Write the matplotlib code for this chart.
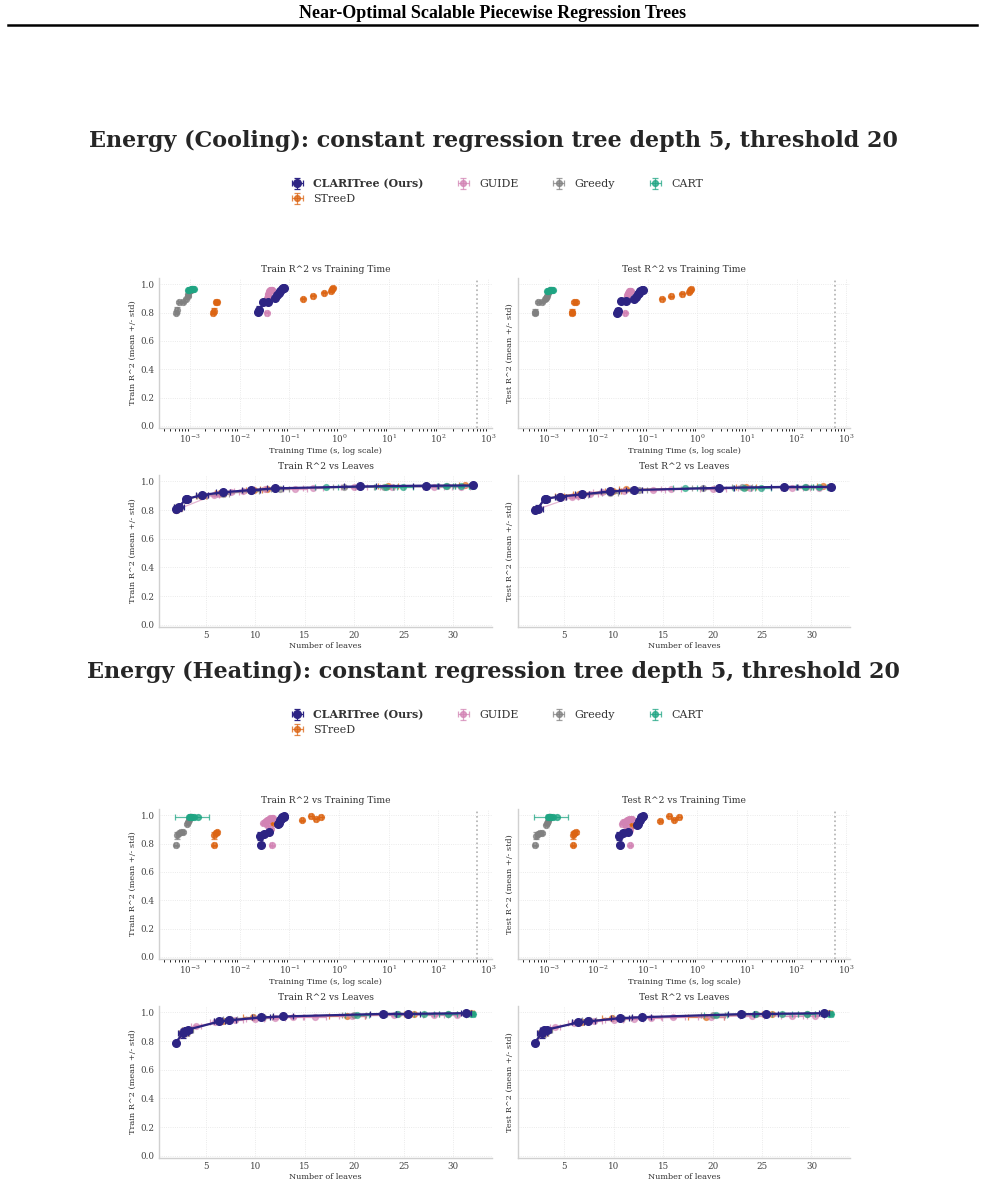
import matplotlib.pyplot as plt
import numpy as np

plt.rcParams["font.family"] = "DejaVu Serif"

W, H = 985, 1183

METHODS = ["CLARITree (Ours)", "STreeD", "GUIDE", "Greedy", "CART"]
COLORS = ["#2d2483", "#dc6412", "#d283b4", "#808080", "#1fa583"]
TIME_LIMIT = 600
R2_TICKS = [0.0, 0.2, 0.4, 0.6, 0.8, 1.0]

# ---------------- Energy (Cooling) ----------------
COOL_CLARI = dict(
    leaves=[2.0, 2.3, 3.0, 3.1, 4.6, 6.8, 9.6, 12.0, 20.6, 27.2, 32.0],
    leaves_std=[0.0, 0.5, 0.2, 0.3, 0.6, 0.7, 0.9, 0.8, 1.6, 1.3, 0.2],
    time=[0.024, 0.025, 0.029, 0.037, 0.052, 0.057, 0.062, 0.066, 0.071, 0.076, 0.080],
    time_std=[0.002, 0.002, 0.002, 0.003, 0.003, 0.003, 0.004, 0.004, 0.004, 0.005, 0.005],
    train=[0.805, 0.820, 0.877, 0.878, 0.905, 0.925, 0.940, 0.952, 0.965, 0.971, 0.972],
    test=[0.800, 0.810, 0.880, 0.880, 0.895, 0.910, 0.930, 0.940, 0.955, 0.962, 0.962],
    r2_std=[0.008, 0.025, 0.006, 0.006, 0.005, 0.004, 0.004, 0.003, 0.003, 0.002, 0.002],
)
COOL_STREED = dict(
    leaves=[2.0, 2.2, 3.0, 3.1, 4.5, 6.5, 9.9, 11.2, 23.4, 31.2],
    leaves_std=[0.0, 0.4, 0.0, 0.3, 0.5, 0.6, 0.8, 0.7, 1.0, 0.6],
    time=[0.0029, 0.0030, 0.0033, 0.0035, 0.19, 0.30, 0.50, 0.68, 0.72, 0.75],
    time_std=[0.0002, 0.0002, 0.0002, 0.0003, 0.01, 0.02, 0.03, 0.04, 0.05, 0.05],
    train=[0.800, 0.815, 0.873, 0.878, 0.900, 0.920, 0.940, 0.950, 0.965, 0.975],
    test=[0.800, 0.805, 0.875, 0.877, 0.900, 0.915, 0.935, 0.945, 0.958, 0.965],
    r2_std=[0.010, 0.020, 0.008, 0.006, 0.005, 0.004, 0.004, 0.003, 0.003, 0.003],
)
COOL_GUIDE = dict(
    leaves=[2.0, 5.8, 6.4, 7.6, 8.8, 11.0, 14.0, 15.8, 20.0, 23.8, 28.0, 30.8],
    leaves_std=[0.0, 0.6, 0.6, 0.8, 0.9, 1.1, 1.2, 1.0, 1.3, 1.2, 1.1, 0.9],
    time=[0.035, 0.036, 0.037, 0.038, 0.038, 0.039, 0.040, 0.041, 0.042, 0.043, 0.044, 0.045],
    time_std=[0.002, 0.002, 0.002, 0.002, 0.002, 0.002, 0.002, 0.002, 0.002, 0.002, 0.002, 0.002],
    train=[0.800, 0.905, 0.912, 0.925, 0.935, 0.945, 0.950, 0.955, 0.960, 0.962, 0.962, 0.963],
    test=[0.800, 0.890, 0.900, 0.910, 0.925, 0.935, 0.940, 0.945, 0.950, 0.955, 0.955, 0.955],
    r2_std=[0.005, 0.006, 0.005, 0.005, 0.004, 0.004, 0.004, 0.003, 0.003, 0.003, 0.003, 0.003],
)
COOL_GREEDY = dict(
    leaves=[2.0, 2.2, 3.0, 3.2, 4.6, 6.8, 9.6, 12.5, 19.0, 23.0, 29.4],
    leaves_std=[0.0, 0.4, 0.0, 0.3, 0.5, 0.6, 0.8, 0.9, 1.1, 1.0, 0.8],
    time=[0.00053, 0.00054, 0.00062, 0.00072, 0.00085, 0.00090, 0.00094, 0.00098, 0.00102, 0.00106, 0.00110],
    time_std=[0.00003, 0.00003, 0.00003, 0.00004, 0.00004, 0.00004, 0.00005, 0.00005, 0.00005, 0.00005, 0.00005],
    train=[0.800, 0.820, 0.875, 0.877, 0.900, 0.915, 0.930, 0.950, 0.960, 0.963, 0.965],
    test=[0.800, 0.805, 0.875, 0.877, 0.895, 0.905, 0.920, 0.940, 0.955, 0.958, 0.960],
    r2_std=[0.010, 0.020, 0.006, 0.006, 0.005, 0.004, 0.004, 0.003, 0.003, 0.003, 0.003],
)
COOL_CART = dict(
    leaves=[17.2, 23.2, 24.9, 29.3, 30.8, 31.9],
    leaves_std=[1.2, 1.1, 1.0, 0.9, 0.8, 0.3],
    time=[0.00092, 0.00098, 0.00104, 0.00110, 0.00116, 0.00122],
    time_std=[0.00005, 0.00005, 0.00005, 0.00005, 0.00005, 0.00005],
    train=[0.958, 0.963, 0.964, 0.966, 0.966, 0.967],
    test=[0.952, 0.956, 0.957, 0.958, 0.958, 0.958],
    r2_std=[0.003, 0.003, 0.003, 0.003, 0.003, 0.003],
)

# ---------------- Energy (Heating) ----------------
HEAT_CLARI = dict(
    leaves=[2.0, 2.7, 2.9, 3.2, 6.4, 7.4, 10.6, 12.8, 22.9, 25.4, 31.3],
    leaves_std=[0.0, 0.5, 0.4, 0.4, 0.6, 0.7, 0.9, 1.0, 1.3, 1.2, 0.5],
    time=[0.027, 0.026, 0.031, 0.040, 0.060, 0.063, 0.066, 0.069, 0.073, 0.077, 0.080],
    time_std=[0.002, 0.002, 0.002, 0.003, 0.003, 0.003, 0.004, 0.004, 0.004, 0.005, 0.005],
    train=[0.790, 0.855, 0.870, 0.880, 0.937, 0.945, 0.965, 0.972, 0.990, 0.990, 0.995],
    test=[0.790, 0.855, 0.875, 0.880, 0.930, 0.937, 0.960, 0.967, 0.988, 0.990, 0.995],
    r2_std=[0.004, 0.030, 0.012, 0.008, 0.005, 0.004, 0.003, 0.003, 0.002, 0.002, 0.002],
)
HEAT_STREED = dict(
    leaves=[2.0, 2.8, 3.0, 3.2, 6.8, 9.8, 31.8, 19.3, 26.0],
    leaves_std=[0.0, 0.5, 0.4, 0.3, 0.6, 1.0, 0.3, 1.8, 1.0],
    time=[0.0031, 0.0031, 0.0033, 0.0035, 0.048, 0.18, 0.27, 0.34, 0.43],
    time_std=[0.0002, 0.0002, 0.0002, 0.0002, 0.003, 0.01, 0.02, 0.02, 0.03],
    train=[0.790, 0.860, 0.875, 0.880, 0.943, 0.965, 0.995, 0.975, 0.990],
    test=[0.790, 0.860, 0.875, 0.880, 0.935, 0.960, 0.995, 0.970, 0.990],
    r2_std=[0.004, 0.025, 0.012, 0.010, 0.005, 0.004, 0.002, 0.003, 0.002],
)
HEAT_GUIDE = dict(
    leaves=[2.0, 4.0, 6.0, 8.0, 10.0, 12.0, 13.8, 16.0, 19.8, 24.0, 28.0, 30.4],
    leaves_std=[0.0, 0.5, 0.6, 0.8, 0.9, 1.0, 1.1, 1.2, 1.3, 1.2, 1.1, 0.9],
    time=[0.044, 0.043, 0.036, 0.030, 0.032, 0.034, 0.036, 0.038, 0.040, 0.042, 0.045, 0.048],
    time_std=[0.002, 0.002, 0.002, 0.002, 0.002, 0.002, 0.002, 0.002, 0.002, 0.002, 0.002, 0.002],
    train=[0.790, 0.905, 0.930, 0.945, 0.955, 0.960, 0.965, 0.970, 0.975, 0.980, 0.980, 0.982],
    test=[0.790, 0.900, 0.925, 0.940, 0.950, 0.955, 0.960, 0.965, 0.970, 0.975, 0.975, 0.977],
    r2_std=[0.004, 0.006, 0.005, 0.004, 0.004, 0.003, 0.003, 0.003, 0.003, 0.002, 0.002, 0.002],
)
HEAT_GREEDY = dict(
    leaves=[2.0, 2.8, 3.0, 3.2, 3.4, 6.4, 7.5, 10.8, 20.0, 24.4, 29.5],
    leaves_std=[0.0, 0.5, 0.4, 0.3, 0.3, 0.6, 0.7, 0.9, 1.2, 1.1, 0.9],
    time=[0.00052, 0.00055, 0.00060, 0.00066, 0.00072, 0.00088, 0.00092, 0.00096, 0.00100, 0.00104, 0.00108],
    time_std=[0.00003, 0.00003, 0.00003, 0.00004, 0.00004, 0.00004, 0.00005, 0.00005, 0.00005, 0.00005, 0.00005],
    train=[0.790, 0.860, 0.875, 0.880, 0.880, 0.940, 0.955, 0.970, 0.985, 0.990, 0.992],
    test=[0.790, 0.855, 0.870, 0.875, 0.878, 0.935, 0.945, 0.960, 0.985, 0.988, 0.990],
    r2_std=[0.004, 0.025, 0.010, 0.008, 0.008, 0.005, 0.004, 0.003, 0.002, 0.002, 0.002],
)
HEAT_CART = dict(
    leaves=[20.3, 24.3, 27.0, 29.5, 31.8, 32.0],
    leaves_std=[1.2, 1.1, 1.0, 0.9, 0.3, 0.2],
    time=[0.00095, 0.00100, 0.00105, 0.00110, 0.00120, 0.00145],
    time_std=[0.00005, 0.00005, 0.00006, 0.00006, 0.00007, 0.00095],
    train=[0.985, 0.988, 0.990, 0.990, 0.990, 0.990],
    test=[0.985, 0.987, 0.988, 0.990, 0.990, 0.990],
    r2_std=[0.002, 0.002, 0.002, 0.002, 0.002, 0.002],
)

COOLING = [COOL_CLARI, COOL_STREED, COOL_GUIDE, COOL_GREEDY, COOL_CART]
HEATING = [HEAT_CLARI, HEAT_STREED, HEAT_GUIDE, HEAT_GREEDY, HEAT_CART]


def box(x0, y0, x1, y1):
    # pixel box -> figure fraction
    return [x0 / W, 1 - y1 / H, (x1 - x0) / W, (y1 - y0) / H]


def style_ax(ax, title, xlabel, ylabel, show_yticks):
    ax.set_title(title, fontsize=6.6, color="#333333", pad=4)
    ax.set_xlabel(xlabel, fontsize=5.9, color="#333333", labelpad=1.5)
    ax.set_ylabel(ylabel, fontsize=5.9, color="#333333", labelpad=3)
    ax.set_ylim(-0.015, 1.045)
    ax.set_yticks(R2_TICKS)
    ax.tick_params(length=0, labelsize=6.3, labelcolor="#444444", pad=3)
    if not show_yticks:
        ax.tick_params(labelleft=False)
    for s in ["top", "right"]:
        ax.spines[s].set_visible(False)
    for s in ["left", "bottom"]:
        ax.spines[s].set_color("#d0d0d0")
        ax.spines[s].set_linewidth(1.0)
    ax.grid(True, linestyle=":", linewidth=0.6, color="#e4e4e4")
    ax.set_axisbelow(True)


def draw_series(ax, data, key, xkey, connect):
    handles = []
    for i, (d, name, c) in enumerate(zip(data, METHODS, COLORS)):
        main = i == 0
        x = np.array(d[xkey])
        y = np.array(d[key])
        xe = np.array(d[xkey + "_std"])
        ye = np.array(d["r2_std"])
        order = np.argsort(x)
        h = ax.errorbar(x[order], y[order], xerr=xe[order], yerr=ye[order],
                        fmt="o", color=c, ecolor=c,
                        ms=5.5 if main else 4.2,
                        alpha=1.0 if main else 0.75,
                        elinewidth=0.9, capsize=2, capthick=0.9,
                        ls="-" if connect else "none",
                        lw=1.6 if main else 0.9,
                        zorder=5 if main else 3 + 0.1 * i,
                        label=name)
        if connect and not main:
            h.lines[0].set_alpha(0.6)
        handles.append(h)
    return handles


def draw_section(data, title, y_off):
    fig.text(0.501, 1 - (141 + y_off) / H, title, ha="center", va="center",
             fontsize=16, fontweight="bold", color="#262626")

    ax_tl = fig.add_axes(box(159, 278 + y_off, 492, 428 + y_off))
    ax_tr = fig.add_axes(box(518, 278 + y_off, 850, 428 + y_off))
    ax_bl = fig.add_axes(box(159, 475 + y_off, 492, 627 + y_off))
    ax_br = fig.add_axes(box(518, 475 + y_off, 850, 627 + y_off))

    for ax, key, split, show in [(ax_tl, "train", "Train", True), (ax_tr, "test", "Test", False)]:
        ax.set_xscale("log")
        handles = draw_series(ax, data, key, "time", False)
        ax.axvline(TIME_LIMIT, color="#b0b0b0", linestyle=":", linewidth=1.2, zorder=1)
        ax.set_xlim(2.4e-4, 1.2e3)
        style_ax(ax, split + " R^2 vs Training Time", "Training Time (s, log scale)",
                 split + " R^2 (mean +/- std)", show)
        if ax is ax_tl:
            legend_handles = handles

    for ax, key, split, show in [(ax_bl, "train", "Train", True), (ax_br, "test", "Test", False)]:
        draw_series(ax, data, key, "leaves", True)
        ax.set_xlim(0.3, 33.9)
        ax.set_xticks([5, 10, 15, 20, 25, 30])
        style_ax(ax, split + " R^2 vs Leaves", "Number of leaves",
                 split + " R^2 (mean +/- std)", show)

    leg = fig.legend(legend_handles, METHODS, loc="center",
                     bbox_to_anchor=(0.504, 1 - (191 + y_off) / H),
                     ncol=4, frameon=False, fontsize=7.9, handlelength=1.3,
                     handletextpad=0.8, columnspacing=3.0, labelspacing=0.45)
    leg.get_texts()[0].set_fontweight("bold")
    for t in leg.get_texts():
        t.set_color("#333333")


fig = plt.figure(figsize=(W / 100, H / 100), dpi=100)

fig.text(0.5, 1 - 13 / H, "Near-Optimal Scalable Piecewise Regression Trees",
         ha="center", va="center", fontsize=13, fontweight="bold",
         family="Liberation Serif", color="black")
fig.add_artist(plt.Line2D([8 / W, 977 / W], [1 - 25 / H, 1 - 25 / H],
                          color="black", linewidth=1.8))

draw_section(COOLING, "Energy (Cooling): constant regression tree depth 5, threshold 20", 0)
draw_section(HEATING, "Energy (Heating): constant regression tree depth 5, threshold 20", 531)

fig.savefig("out.png", dpi=100)
